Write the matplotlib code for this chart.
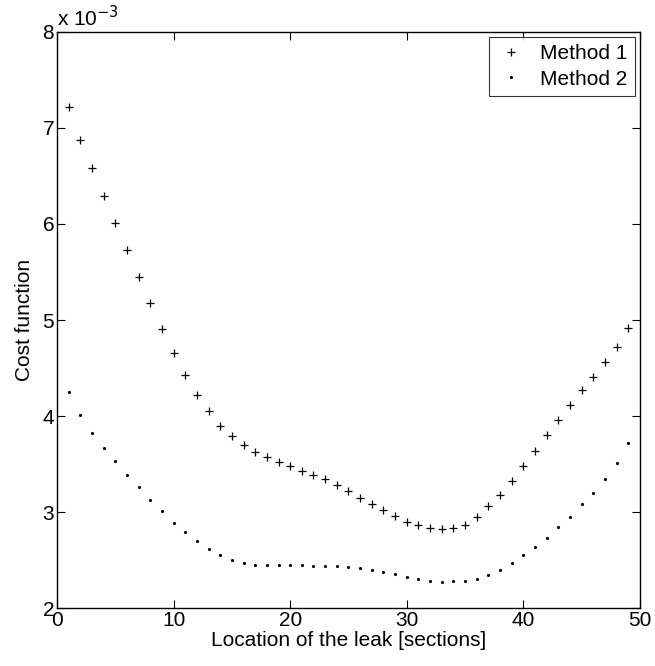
import matplotlib.pyplot as plt

plt.rcParams['font.family'] = ['Liberation Sans', 'DejaVu Sans']

# Données (en unités de 1e-3)
x = list(range(1, 50))
method1 = [7.22, 6.88, 6.58, 6.29, 6.01, 5.73, 5.45, 5.18, 4.91, 4.66,
           4.43, 4.22, 4.05, 3.90, 3.79, 3.70, 3.63, 3.57, 3.52, 3.48,
           3.43, 3.39, 3.34, 3.28, 3.22, 3.15, 3.08, 3.02, 2.96, 2.90,
           2.86, 2.83, 2.82, 2.83, 2.87, 2.95, 3.06, 3.18, 3.32, 3.48,
           3.64, 3.80, 3.96, 4.12, 4.27, 4.41, 4.56, 4.72, 4.92]
method2 = [4.25, 4.01, 3.82, 3.67, 3.53, 3.39, 3.26, 3.13, 3.01, 2.89,
           2.79, 2.70, 2.62, 2.55, 2.50, 2.47, 2.45, 2.45, 2.45, 2.45,
           2.45, 2.44, 2.44, 2.44, 2.43, 2.42, 2.40, 2.38, 2.35, 2.32,
           2.30, 2.28, 2.27, 2.28, 2.28, 2.30, 2.34, 2.40, 2.47, 2.55,
           2.64, 2.73, 2.84, 2.95, 3.08, 3.20, 3.34, 3.51, 3.72]

fig = plt.figure(figsize=(6.55, 6.66), dpi=100)
ax = fig.add_axes([0.087, 0.087, 0.890, 0.865])

ax.plot(x, method1, linestyle='none', marker='+', color='black',
        markersize=6, markeredgewidth=0.9, label='Method 1')
ax.plot(x, method2, linestyle='none', marker='.', color='black',
        markersize=2.5, label='Method 2')

ax.set_xlim(0, 50)
ax.set_ylim(2, 8)
ax.set_xticks([0, 10, 20, 30, 40, 50])
ax.set_yticks([2, 3, 4, 5, 6, 7, 8])
ax.tick_params(direction='in', top=True, right=True, length=6,
               labelsize=15, pad=2)
for s in ax.spines.values():
    s.set_linewidth(1.0)

ax.set_xlabel('Location of the leak [sections]', fontsize=15, labelpad=1)
ax.set_ylabel('Cost function', fontsize=15, labelpad=6)
ax.text(0.0, 1.003, 'x 10$^{-3}$', transform=ax.transAxes,
        fontsize=15, ha='left', va='bottom')

leg = ax.legend(loc='upper right', fontsize=15, frameon=True, fancybox=False,
                borderaxespad=0.25, handlelength=1.4, handletextpad=0.7,
                borderpad=0.35, labelspacing=0.3, markerscale=1.0)
leg.get_frame().set_edgecolor('black')
leg.get_frame().set_linewidth(0.8)

plt.savefig('out.png', dpi=100)
